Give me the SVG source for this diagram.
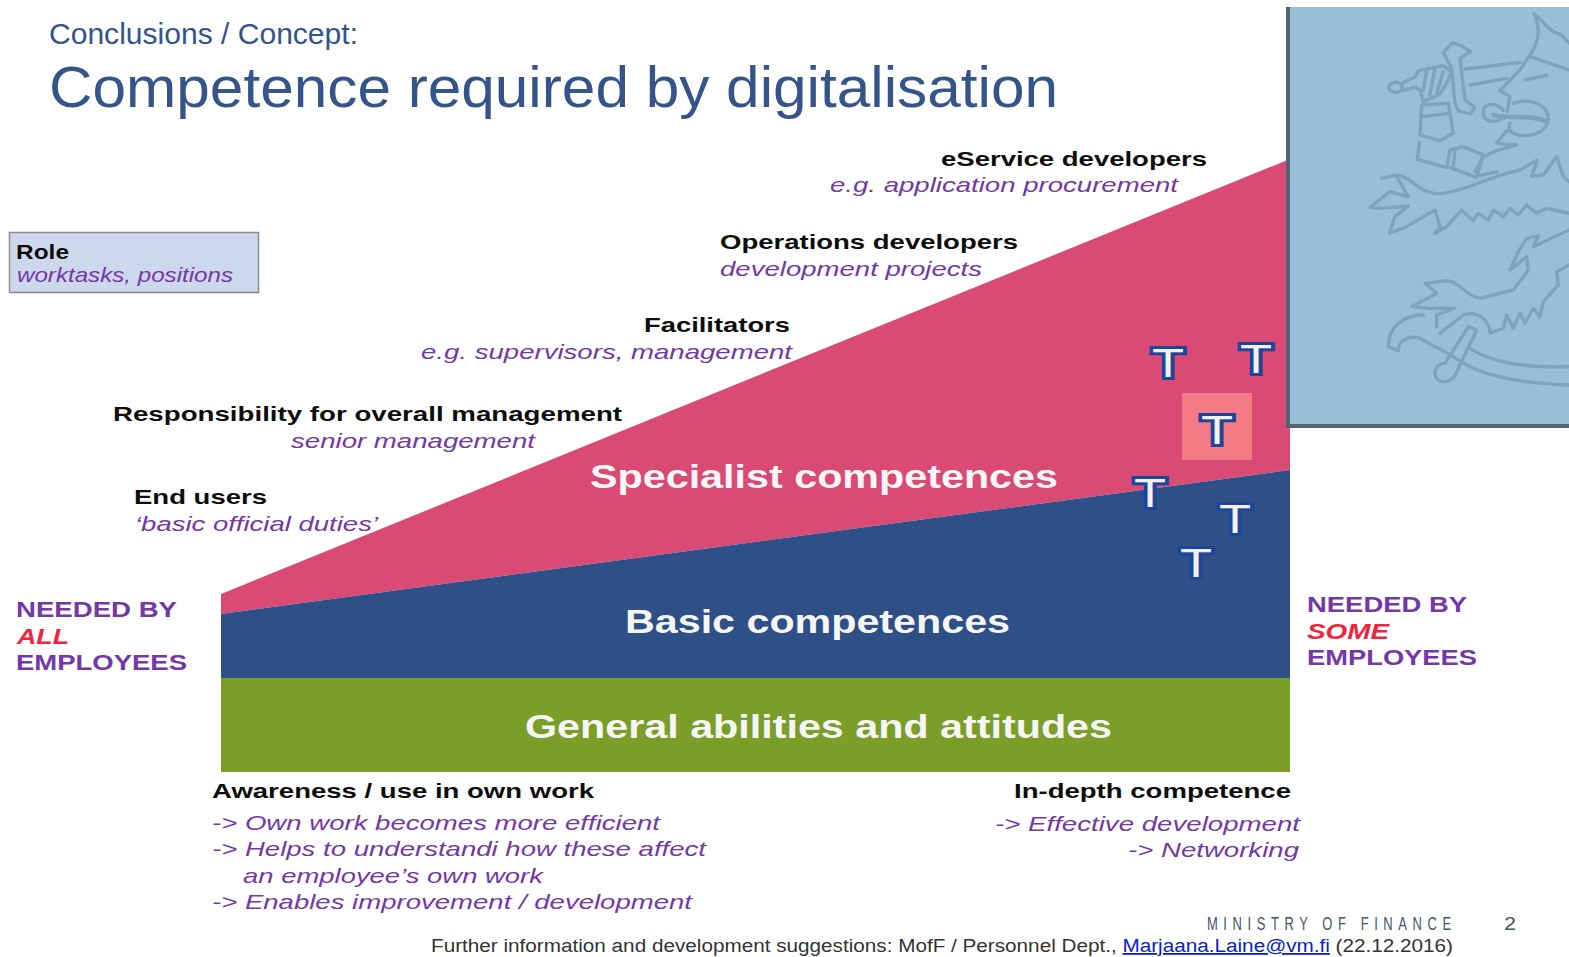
<svg xmlns="http://www.w3.org/2000/svg" width="1569" height="957" viewBox="0 0 1569 957">
<style>
text{font-family:"Liberation Sans",Arial,sans-serif}
.h{font-size:21px;font-weight:700;fill:#0d0d0d}
.s{font-size:21px;font-style:italic;fill:#7438a6}
.n{font-size:22px;font-weight:700;fill:#7438a6}
.r{font-size:22px;font-weight:700;font-style:italic;fill:#f0243c}
.b{font-size:34px;font-weight:700;fill:#f6f6f6}
.t{font-size:40px;fill:#f4f2e8;stroke:#1c459c;stroke-width:6px;paint-order:stroke;stroke-linejoin:miter}
.l{fill:none;stroke:#7fa3bb;stroke-width:10;stroke-linejoin:round;stroke-linecap:round}
</style>
<rect width="1569" height="957" fill="#fff"/>
<g id="title">
<text x="49" y="44" textLength="309" lengthAdjust="spacingAndGlyphs" style="font-size:29px;fill:#34548a">Conclusions / Concept:</text>
<text x="49" y="107" textLength="1009" lengthAdjust="spacingAndGlyphs" style="font-size:58px;fill:#34548a">Competence required by digitalisation</text>
</g>
<g id="specialist">
<polygon points="221,594 1290,159 1290,470 221,614" fill="#d94a74"/>
<rect x="1182" y="393" width="70" height="67" fill="#f47a85"/>
<text class="b" x="590" y="488" textLength="468" lengthAdjust="spacingAndGlyphs">Specialist competences</text>
</g>
<g id="basic">
<polygon points="221,614 1290,470 1290,678 221,678" fill="#2f4f87"/>
<text class="b" x="625" y="633" textLength="385" lengthAdjust="spacingAndGlyphs">Basic competences</text>
</g>
<g id="general">
<rect x="221" y="678" width="1069" height="94" fill="#7a9e28"/>
<text class="b" x="525" y="738" textLength="587" lengthAdjust="spacingAndGlyphs">General abilities and attitudes</text>
</g>
<g id="crest">
<rect x="1286" y="7" width="283" height="421" fill="#4f6672"/>
<rect x="1290" y="7" width="279" height="417" fill="#98bed8"/>
<g class="l" transform="translate(1280,0) scale(.3333)">
<ellipse cx="347" cy="262" rx="20" ry="15"/>
<path d="M367 250L385 240 405 232 415 212 490 197 515 215 500 250 480 282 430 305 420 270 405 262 367 272"/>
<path d="M440 210L430 270M465 205L450 285M490 215L470 280"/>
<path d="M490 158L518 128 545 138 572 155 540 175 555 300 585 322 570 342 535 332 525 310 515 205 490 158Z"/>
<path d="M555 207L720 187M570 255L680 235"/>
<path d="M425 315L505 310 520 400 480 422 420 405 425 315ZM425 350L510 340"/>
<path d="M418 428L412 478 500 503 510 450 550 440 610 465 590 532 510 503"/>
<path d="M525 450L520 500M585 530L650 515"/>
<path d="M762 42C790 60 800 92 845 105L867 130M762 42C785 90 775 130 750 165L720 210 660 272 690 290 682 335"/>
<path d="M750 170L867 210M735 240L800 226"/>
<path d="M700 310C760 290 805 320 805 355 805 395 750 420 700 400 680 390 690 370 690 370"/>
<path d="M680 350C640 375 605 365 610 330 620 305 650 310 670 330" />
<path d="M640 345C700 360 750 340 800 365" stroke-width="14"/>
<path d="M680 392L650 430 710 435 640 455 610 470 585 515"/>
<path d="M305 535L350 525C400 530 420 590 490 580 560 570 630 530 720 510L772 480 755 530 790 525 830 470 850 530 867 545"/>
<path d="M350 530L385 590 330 575 270 622 310 625 385 618 345 650 328 700 380 680 465 630 480 680 465 700 500 680 545 630 580 662 595 640 625 660 640 630 670 650 690 625 715 645 740 615 770 640 800 625 867 640"/>
<path d="M867 690L760 740 775 708 740 715 715 755 690 810 740 770 745 810 700 870 600 895C560 890 540 845 500 842L435 850 470 880 395 920 450 925 525 925 470 945 470 980"/>
<path d="M867 795L830 815 835 855 790 905 780 950 760 925 735 970 720 940 700 985 680 945 670 985 630 1000C630 960 590 930 550 945L480 1000"/>
<path d="M430 945C370 945 325 980 325 1040L355 1052C355 1020 390 1005 420 1015L520 1070C600 1130 720 1150 867 1155M570 1045C640 1090 740 1105 867 1100"/>
<path d="M565 980L590 990 525 1125C510 1155 465 1150 465 1120 465 1100 480 1090 495 1090Z"/>
</g>
</g>
<g id="tokens">
<text class="t" x="1168" y="377" text-anchor="middle" textLength="32" lengthAdjust="spacingAndGlyphs">T</text>
<text class="t" x="1256" y="373" text-anchor="middle" textLength="32" lengthAdjust="spacingAndGlyphs">T</text>
<text class="t" x="1217" y="444" text-anchor="middle" textLength="32" lengthAdjust="spacingAndGlyphs">T</text>
<text class="t" x="1150" y="507" text-anchor="middle" textLength="32" lengthAdjust="spacingAndGlyphs">T</text>
<text class="t" x="1235" y="533" text-anchor="middle" textLength="32" lengthAdjust="spacingAndGlyphs">T</text>
<text class="t" x="1196" y="577" text-anchor="middle" textLength="32" lengthAdjust="spacingAndGlyphs">T</text>
</g>
<g id="legend">
<rect x="9.500" y="232.500" width="249" height="60" fill="#cdd8ec" stroke="#8c8c8c" stroke-width="1.500"/>
<text class="h" x="16" y="259" textLength="53" lengthAdjust="spacingAndGlyphs">Role</text>
<text class="s" x="17" y="282" textLength="216" lengthAdjust="spacingAndGlyphs">worktasks, positions</text>
</g>
<g id="role-eservice">
<text class="h" x="941" y="166" textLength="266" lengthAdjust="spacingAndGlyphs">eService developers</text>
<text class="s" x="830" y="192" textLength="348" lengthAdjust="spacingAndGlyphs">e.g. application procurement</text>
</g>
<g id="role-operations">
<text class="h" x="720" y="249" textLength="298" lengthAdjust="spacingAndGlyphs">Operations developers</text>
<text class="s" x="720" y="276" textLength="262" lengthAdjust="spacingAndGlyphs">development projects</text>
</g>
<g id="role-facilitators">
<text class="h" x="644" y="332" textLength="146" lengthAdjust="spacingAndGlyphs">Facilitators</text>
<text class="s" x="421" y="359" textLength="371" lengthAdjust="spacingAndGlyphs">e.g. supervisors, management</text>
</g>
<g id="role-responsibility">
<text class="h" x="113" y="421" textLength="509" lengthAdjust="spacingAndGlyphs">Responsibility for overall management</text>
<text class="s" x="291" y="448" textLength="244" lengthAdjust="spacingAndGlyphs">senior management</text>
</g>
<g id="role-endusers">
<text class="h" x="134" y="504" textLength="133" lengthAdjust="spacingAndGlyphs">End users</text>
<text class="s" x="135" y="531" textLength="243" lengthAdjust="spacingAndGlyphs">‘basic official duties’</text>
</g>
<g id="needed-all">
<text class="n" x="16" y="617" textLength="161" lengthAdjust="spacingAndGlyphs">NEEDED BY</text>
<text class="r" x="17" y="644" textLength="52" lengthAdjust="spacingAndGlyphs">ALL</text>
<text class="n" x="16" y="670" textLength="171" lengthAdjust="spacingAndGlyphs">EMPLOYEES</text>
</g>
<g id="needed-some">
<text class="n" x="1307" y="612" textLength="160" lengthAdjust="spacingAndGlyphs">NEEDED BY</text>
<text class="r" x="1307" y="639" textLength="82" lengthAdjust="spacingAndGlyphs">SOME</text>
<text class="n" x="1307" y="665" textLength="170" lengthAdjust="spacingAndGlyphs">EMPLOYEES</text>
</g>
<g id="awareness">
<text class="h" x="212" y="798" textLength="382" lengthAdjust="spacingAndGlyphs">Awareness / use in own work</text>
<text class="s" x="212" y="830" textLength="448" lengthAdjust="spacingAndGlyphs">-&gt; Own work becomes more efficient</text>
<text class="s" x="212" y="856" textLength="494" lengthAdjust="spacingAndGlyphs">-&gt; Helps to understandi how these affect</text>
<text class="s" x="243" y="883" textLength="300" lengthAdjust="spacingAndGlyphs">an employee’s own work</text>
<text class="s" x="212" y="909" textLength="480" lengthAdjust="spacingAndGlyphs">-&gt; Enables improvement / development</text>
</g>
<g id="in-depth">
<text class="h" x="1014" y="798" textLength="277" lengthAdjust="spacingAndGlyphs">In-depth competence</text>
<text class="s" x="995" y="831" textLength="305" lengthAdjust="spacingAndGlyphs">-&gt; Effective development</text>
<text class="s" x="1128" y="857" textLength="171" lengthAdjust="spacingAndGlyphs">-&gt; Networking</text>
</g>
<g id="footer">
<text transform="translate(1207,930) scale(.72,1)" textLength="339" lengthAdjust="spacing" style="font-size:18px;fill:#44546a">MINISTRY OF FINANCE</text>
<text x="1504" y="930" textLength="12" lengthAdjust="spacingAndGlyphs" style="font-size:18px;fill:#44546a">2</text>
<text x="431" y="952" textLength="1022" lengthAdjust="spacingAndGlyphs" style="font-size:18px;fill:#333"><tspan>Further information and development suggestions: MofF / Personnel Dept., </tspan><tspan fill="#0b22c8" text-decoration="underline">Marjaana.Laine@vm.fi</tspan><tspan> (22.12.2016)</tspan></text>
</g>
</svg>
